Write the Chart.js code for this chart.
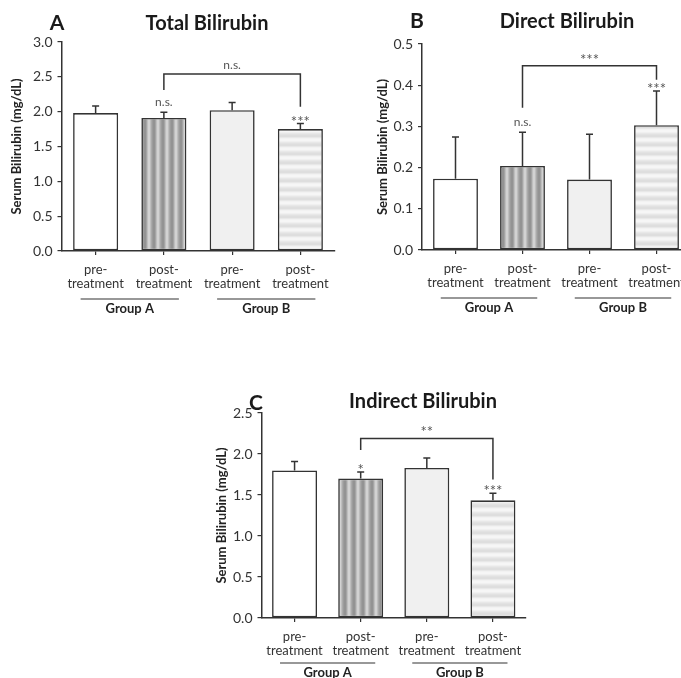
<!DOCTYPE html>
<html><head><meta charset="utf-8">
<script src="https://cdn.jsdelivr.net/npm/chart.js@4/dist/chart.umd.min.js"></script>
<style>
html,body{margin:0;padding:0;background:#fff;overflow:hidden;width:681px;height:678px;position:relative;}
canvas{position:absolute;display:block;}
</style></head><body>
<canvas id="cA" width="340" height="320" style="left:0;top:0"></canvas>
<canvas id="cB" width="360" height="320" style="left:340px;top:0"></canvas>
<canvas id="cC" width="340" height="308" style="left:200px;top:370px"></canvas>
<script>
// ---- data ----
const categories = [['pre-','treatment'],['post-','treatment'],['pre-','treatment'],['post-','treatment']];
const groupLabels = ['Group A','Group B'];
const yAxisTitle = 'Serum Bilirubin (mg/dL)';

const totalMeans = [1.98, 1.91, 2.02, 1.75];
const totalErr   = [0.10, 0.08, 0.11, 0.08];
const totalSig   = ['', 'n.s.', '', '***'];
const totalBracket = {label:'n.s.', level:2.54, leftEnd:2.31, rightEnd:2.07};

const directMeans = [0.173, 0.204, 0.171, 0.303];
const directErr   = [0.101, 0.082, 0.110, 0.083];
const directSig   = ['', 'n.s.', '', '***'];
const directBracket = {label:'***', level:0.447, leftEnd:0.345, rightEnd:0.413};

const indirectMeans = [1.80, 1.70, 1.83, 1.435];
const indirectErr   = [0.11, 0.08, 0.12, 0.085];
const indirectSig   = ['', '*', '', '***'];
const indirectBracket = {label:'**', level:2.19, leftEnd:2.05, rightEnd:1.69};

// ---- styles ----
function stripePattern(colors, vertical){
  const c=document.createElement('canvas');
  c.width = vertical? colors.length:1; c.height = vertical?1:colors.length;
  const g=c.getContext('2d');
  colors.forEach((col,i)=>{g.fillStyle=col; if(vertical) g.fillRect(i,0,1,1); else g.fillRect(0,i,1,1);});
  return g.createPattern(c,'repeat');
}
function fills(){
  return ['#ffffff',
    stripePattern(['#939393','#939393','#a4a4a4','#bebebe','#d2d2d2','#d2d2d2','#bebebe','#aaaaaa','#9c9c9c'], true),
    '#f0f0f0',
    stripePattern(['#dedede','#dedede','#e8e8e8','#f2f2f2','#f6f6f6','#f6f6f6','#f0f0f0','#e8e8e8','#e2e2e2'], false)];
}
const INK = '#333333';

function drawSig(ctx, label, cx, baseStar, baseText){
  ctx.fillStyle='#555'; ctx.textAlign='center'; ctx.textBaseline='alphabetic';
  if(label.includes('*')){ ctx.font='15px Lato'; ctx.fillText(label, cx, baseStar); }
  else { ctx.font='12px Lato'; ctx.fillText(label, cx, baseText); }
}

function annot(cfg){ return { id:'annot', afterDatasetsDraw(chart){
  const {ctx, scales:{x,y}, chartArea:ca} = chart;
  ctx.save();
  ctx.strokeStyle=INK; ctx.lineWidth=1.5;
  cfg.means.forEach((m,i)=>{
    const cx = x.getPixelForValue(i);
    const yt = y.getPixelForValue(m), ye = y.getPixelForValue(m+cfg.err[i]);
    ctx.beginPath(); ctx.moveTo(cx,yt); ctx.lineTo(cx,ye); ctx.moveTo(cx-3.5,ye); ctx.lineTo(cx+3.5,ye); ctx.stroke();
    if(cfg.sig[i]) drawSig(ctx, cfg.sig[i], cx, ye+3, ye-6);
  });
  // bracket
  const b = cfg.bracket;
  const x1 = x.getPixelForValue(1), x2 = x.getPixelForValue(3);
  const yl = y.getPixelForValue(b.level);
  ctx.strokeStyle=INK; ctx.lineWidth=1.5;
  ctx.beginPath();
  ctx.moveTo(x1, y.getPixelForValue(b.leftEnd)); ctx.lineTo(x1, yl); ctx.lineTo(x2, yl); ctx.lineTo(x2, y.getPixelForValue(b.rightEnd));
  ctx.stroke();
  drawSig(ctx, b.label, (x1+x2)/2, yl-1, yl-5);
  // group lines & labels
  const sp = x.getPixelForValue(1)-x.getPixelForValue(0);
  [[0,1],[2,3]].forEach((pair,gi)=>{
    const mid=(x.getPixelForValue(pair[0])+x.getPixelForValue(pair[1]))/2;
    const ly = ca.bottom + cfg.groupOff;
    ctx.beginPath(); ctx.lineWidth=1.2; ctx.moveTo(mid-0.72*sp, ly); ctx.lineTo(mid+0.72*sp, ly); ctx.stroke();
    ctx.fillStyle='#222'; ctx.font='bold 13px Lato'; ctx.textAlign='center'; ctx.textBaseline='middle';
    ctx.fillText(groupLabels[gi], mid, ly+10);
  });
  // panel letter & title
  ctx.textBaseline='alphabetic'; ctx.textAlign='center'; ctx.fillStyle='#1a1a1a';
  ctx.font='bold 21px Lato'; ctx.fillText(cfg.letter, cfg.letterX, cfg.letterY);
  ctx.font='bold 20px Lato'; ctx.fillText(cfg.title, cfg.titleX, cfg.titleY);
  // y axis title
  ctx.save();
  ctx.translate(cfg.yTitleX, (ca.top+ca.bottom)/2);
  ctx.rotate(-Math.PI/2);
  ctx.font='bold 13px Lato'; ctx.textBaseline='middle'; ctx.fillStyle='#222';
  ctx.fillText(yAxisTitle, 0, 0);
  ctx.restore();
  ctx.restore();
}};}

function makeChart(id, cfg){
  return new Chart(document.getElementById(id), {
    type:'bar',
    data:{labels:categories, datasets:[{data:cfg.means, backgroundColor:fills(), borderColor:INK, borderWidth:1.6,
      barPercentage:cfg.barPct, categoryPercentage:1, borderSkipped:false}]},
    options:{
      responsive:false, animation:false,
      layout:{padding:{top:cfg.top, right:cfg.right, left:0, bottom:0}},
      plugins:{legend:{display:false}, tooltip:{enabled:false}, title:{display:false}},
      scales:{
        x:{grid:{offset:false, drawOnChartArea:false, drawTicks:true, tickLength:4, color:INK, lineWidth:1.2},
           border:{color:INK, width:1.5},
           ticks:{font:{family:'Lato', size:13, lineHeight:1.05}, color:'#333', padding:8, maxRotation:0, autoSkip:false},
           afterFit(s){ s.height = cfg.xh; }},
        y:{min:0, max:cfg.max,
           ticks:{stepSize:cfg.step, callback:v=>Number(v).toFixed(1), font:{family:'Lato', size:14}, color:'#333', padding:5},
           grid:{drawOnChartArea:false, tickLength:4, color:INK, lineWidth:1.2},
           border:{color:INK, width:1.5},
           afterFit(s){ s.width = cfg.yw; }}
      }
    },
    plugins:[annot(cfg)]
  });
}

makeChart('cA', {means:totalMeans, err:totalErr, sig:totalSig, bracket:totalBracket, max:3.0, step:0.5,
  top:42, right:5.5, yw:61.5, xh:69, barPct:0.66, groupOff:48,
  letter:'A', letterX:57, letterY:30, title:'Total Bilirubin', titleX:207, titleY:30, yTitleX:17});
makeChart('cB', {means:directMeans, err:directErr, sig:directSig, bracket:directBracket, max:0.5, step:0.1,
  top:44, right:10, yw:82, xh:70, barPct:0.67, groupOff:48,
  letter:'B', letterX:77, letterY:28, title:'Direct Bilirubin', titleX:227, titleY:28, yTitleX:43});
makeChart('cC', {means:indirectMeans, err:indirectErr, sig:indirectSig, bracket:indirectBracket, max:2.5, step:0.5,
  top:43, right:14, yw:61.5, xh:60, barPct:0.68, groupOff:45,
  letter:'C', letterX:56, letterY:40, title:'Indirect Bilirubin', titleX:223, titleY:38, yTitleX:22});
</script>
</body></html>
